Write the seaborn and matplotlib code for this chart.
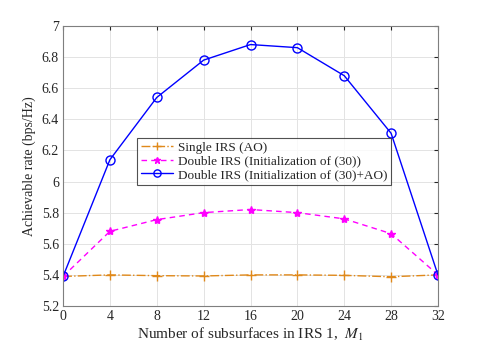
import matplotlib
matplotlib.use("Agg")
import matplotlib.pyplot as plt
import seaborn as sns
import pandas as pd

# data
m1 = [0, 4, 8, 12, 16, 20, 24, 28, 32]
single_ao = [5.39, 5.40, 5.395, 5.393, 5.40, 5.40, 5.397, 5.388, 5.40]
double_init = [5.39, 5.68, 5.755, 5.80, 5.82, 5.80, 5.76, 5.665, 5.40]
double_init_ao = [5.39, 6.14, 6.54, 6.78, 6.88, 6.86, 6.68, 6.31, 5.40]

labels = [
    "Single IRS (AO)",
    "Double IRS (Initialization of (30))",
    "Double IRS (Initialization of (30)+AO)",
]
y_ticks = [5.2, 5.4, 5.6, 5.8, 6.0, 6.2, 6.4, 6.6, 6.8, 7.0]
y_ticklabels = ["5.2", "5.4", "5.6", "5.8", "6", "6.2", "6.4", "6.6", "6.8", "7"]

sns.set_style("white")
plt.rcParams["font.family"] = ["Liberation Serif", "DejaVu Serif"]
plt.rcParams["mathtext.fontset"] = "stix"

fig = plt.figure(figsize=(4.85, 3.45), dpi=100)
ax = fig.add_axes([0.13, 0.113, 0.773, 0.812])

df = pd.DataFrame({"M1": m1, "single": single_ao,
                   "init": double_init, "init_ao": double_init_ao})

# seaborn defaults marker edges to white, so set edge colours explicitly
sns.lineplot(data=df, x="M1", y="single", ax=ax, color="#E0891A",
             linestyle="-.", linewidth=1.0, marker="+", markersize=7.5,
             markeredgecolor="#E0891A", markeredgewidth=1.0,
             label=labels[0])
sns.lineplot(data=df, x="M1", y="init", ax=ax, color="#FF00FF",
             linestyle=(0, (4, 3)), linewidth=1.0, marker="*", markersize=6,
             markerfacecolor="#FF00FF", markeredgecolor="#FF00FF",
             markeredgewidth=1.0, label=labels[1])
sns.lineplot(data=df, x="M1", y="init_ao", ax=ax, color="#0000FF",
             linestyle="-", linewidth=1.0, marker="o", markersize=6.5,
             markerfacecolor="none", markeredgecolor="#0000FF",
             markeredgewidth=1.0, label=labels[2])

ax.set_xlim(0, 32)
ax.set_ylim(5.2, 7.0)
ax.set_xticks(m1)
ax.set_yticks(y_ticks)
ax.set_yticklabels(y_ticklabels)
ax.grid(True, color="#E3E3E3", linewidth=0.7)
ax.set_axisbelow(True)
ax.tick_params(direction="in", length=3, top=True, right=True,
               labelsize=10, colors="#262626", pad=3)
for s in ax.spines.values():
    s.set_visible(True)
    s.set_color("#7F7F7F")
    s.set_linewidth(0.8)

ax.set_xlabel("Number of subsurfaces in IRS 1,  $M_1$", fontsize=11,
              color="#262626", labelpad=2)
ax.set_ylabel("Achievable rate (bps/Hz)", fontsize=10, color="#262626",
              labelpad=4)

leg = ax.legend(loc="lower left", bbox_to_anchor=(0.197, 0.432), fontsize=9.5,
                frameon=True, fancybox=False, borderpad=0.3,
                labelspacing=0.1, handlelength=2.4, handletextpad=0.4,
                borderaxespad=0, markerscale=0.8)
leg.get_frame().set_edgecolor("#262626")
leg.get_frame().set_linewidth(0.8)

fig.savefig("out.png", dpi=100)
plt.close(fig)
